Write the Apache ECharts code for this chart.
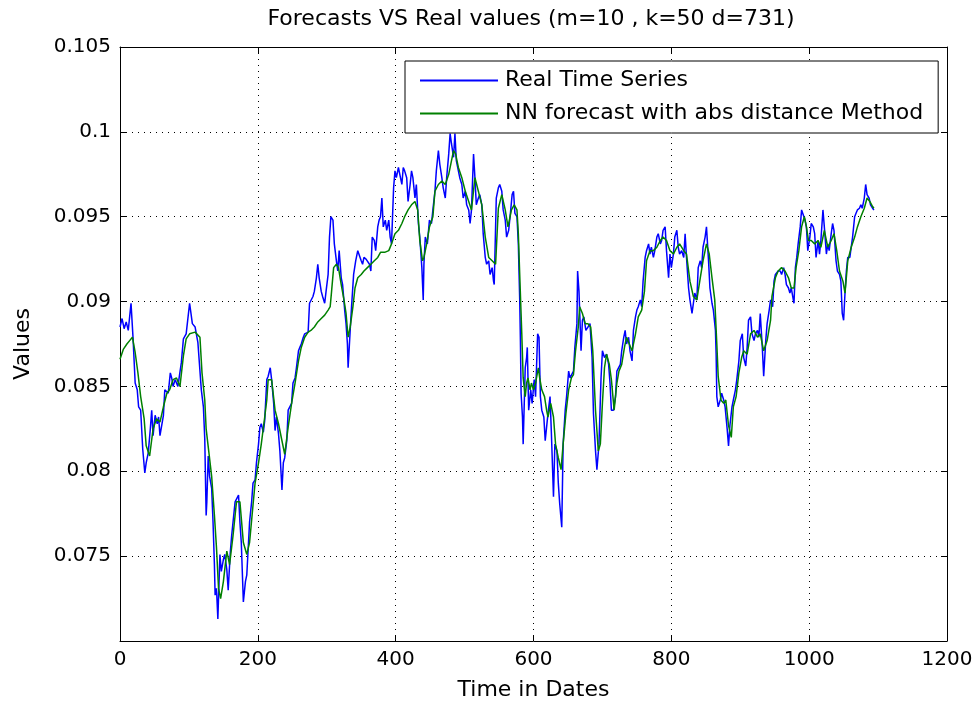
<!DOCTYPE html>
<html>
<head>
<meta charset="utf-8">
<script src="https://cdn.jsdelivr.net/npm/echarts@6/dist/echarts.min.js"></script>
<style>
  html, body { margin: 0; padding: 0; background: #fff; }
  #chart { width: 976px; height: 706px; }
</style>
</head>
<body>
<div id="chart"></div>
<script>
// Real series: day index and observed value
const realDays = [
  0, 3, 6, 9, 12, 16, 19, 22, 25, 27, 30, 33, 36, 38, 41, 44, 46, 48, 51, 54,
  56, 58, 63, 65, 70, 73, 75, 77, 80, 84, 89, 92, 96, 101, 105, 109, 113, 118, 121, 123,
  125, 126, 128, 130, 133, 135, 137, 138, 140, 142, 145, 147, 150, 152, 155, 157, 160, 162, 167, 172,
  174, 176, 179, 182, 184, 188, 191, 193, 196, 198, 201, 203, 205, 208, 210, 213, 215, 218, 220, 223,
  225, 227, 230, 232, 235, 237, 239, 242, 244, 249, 251, 254, 256, 259, 261, 263, 266, 268, 273, 275,
  280, 282, 285, 287, 289, 292, 294, 297, 299, 302, 304, 306, 309, 311, 314, 316, 318, 321, 323, 326,
  328, 330, 331, 334, 336, 339, 342, 345, 347, 350, 352, 354, 357, 359, 362, 364, 366, 369, 371, 374,
  376, 378, 380, 382, 385, 387, 390, 392, 394, 397, 399, 401, 404, 406, 409, 411, 413, 416, 418, 421,
  423, 425, 428, 430, 433, 435, 438, 440, 441, 443, 446, 449, 452, 454, 457, 459, 462, 464, 467, 469,
  472, 474, 477, 479, 481, 484, 486, 488, 491, 493, 496, 498, 501, 503, 506, 508, 510, 513, 515, 517,
  520, 522, 525, 527, 530, 532, 535, 537, 540, 542, 543, 546, 549, 551, 554, 556, 559, 561, 564, 566,
  569, 571, 573, 576, 578, 580, 581, 582, 584, 585, 588, 590, 591, 593, 596, 598, 601, 603, 606, 608,
  610, 612, 615, 617, 619, 621, 624, 626, 629, 631, 634, 636, 638, 641, 643, 646, 648, 651, 653, 655,
  658, 660, 663, 664, 666, 669, 671, 673, 676, 679, 682, 685, 687, 690, 692, 695, 698, 700, 703, 706,
  709, 711, 713, 716, 719, 721, 723, 726, 728, 731, 733, 735, 738, 740, 743, 745, 748, 750, 752, 755,
  757, 759, 762, 764, 767, 769, 771, 774, 776, 779, 781, 784, 786, 788, 791, 793, 796, 798, 800, 803,
  805, 808, 810, 812, 815, 818, 820, 822, 825, 827, 830, 832, 834, 837, 839, 842, 844, 846, 849, 851,
  854, 856, 859, 861, 864, 865, 866, 868, 871, 873, 876, 878, 881, 883, 885, 888, 890, 893, 895, 898,
  900, 903, 905, 908, 910, 912, 915, 917, 920, 922, 925, 927, 929, 932, 934, 937, 939, 942, 944, 947,
  949, 951, 953, 955, 958, 960, 963, 965, 967, 970, 972, 974, 977, 978, 980, 982, 984, 987, 989, 991,
  994, 996, 998, 1001, 1003, 1006, 1008, 1010, 1013, 1015, 1017, 1020, 1022, 1025, 1027, 1029, 1032, 1034, 1036, 1039,
  1041, 1044, 1046, 1048, 1050, 1052, 1054, 1056, 1059, 1061, 1063, 1066, 1068, 1070, 1073, 1075, 1077, 1080, 1082, 1084,
  1087, 1089, 1092, 1094
];
const realValues = [
  0.0885, 0.0890, 0.0884, 0.0888, 0.0883, 0.0899, 0.0878, 0.0852, 0.0848, 0.0838, 0.0836, 0.0813, 0.0799, 0.0805, 0.0811, 0.0825, 0.0836, 0.0821, 0.0833, 0.0828,
  0.0832, 0.0821, 0.0833, 0.0848, 0.0846, 0.0858, 0.0855, 0.0850, 0.0854, 0.0850, 0.0864, 0.0878, 0.0881, 0.0899, 0.0887, 0.0885, 0.0876, 0.0848, 0.0838, 0.0819,
  0.0774, 0.0782, 0.0809, 0.0797, 0.0790, 0.0770, 0.0745, 0.0727, 0.0731, 0.0713, 0.0751, 0.0741, 0.0748, 0.0751, 0.0742, 0.0730, 0.0752, 0.0762, 0.0782, 0.0786,
  0.0770, 0.0758, 0.0723, 0.0735, 0.0739, 0.0770, 0.0782, 0.0793, 0.0795, 0.0805, 0.0816, 0.0826, 0.0828, 0.0823, 0.0830, 0.0854, 0.0856, 0.0861, 0.0854, 0.0840,
  0.0824, 0.0832, 0.0822, 0.0812, 0.0789, 0.0805, 0.0808, 0.0818, 0.0836, 0.0840, 0.0852, 0.0855, 0.0861, 0.0871, 0.0873, 0.0875, 0.0879, 0.0881, 0.0882, 0.0899,
  0.0903, 0.0906, 0.0914, 0.0922, 0.0914, 0.0906, 0.0903, 0.0899, 0.0906, 0.0916, 0.0938, 0.0950, 0.0948, 0.0934, 0.0924, 0.0918, 0.0930, 0.0914, 0.0910, 0.0895,
  0.0887, 0.0875, 0.0861, 0.0883, 0.0897, 0.0916, 0.0924, 0.0930, 0.0931, 0.0924, 0.0922, 0.0926, 0.0925, 0.0924, 0.0922, 0.0918, 0.0938, 0.0936, 0.0930, 0.0944,
  0.0948, 0.0950, 0.0961, 0.0944, 0.0948, 0.0942, 0.0948, 0.0938, 0.0934, 0.0967, 0.0977, 0.0973, 0.0979, 0.0975, 0.0969, 0.0979, 0.0977, 0.0973, 0.0959, 0.0969,
  0.0977, 0.0973, 0.0961, 0.0969, 0.0946, 0.0938, 0.0920, 0.0901, 0.0922, 0.0938, 0.0934, 0.0948, 0.0946, 0.0954, 0.0965, 0.0977, 0.0989, 0.0981, 0.0973, 0.0967,
  0.0961, 0.0973, 0.0987, 0.0999, 0.0993, 0.0985, 0.0999, 0.0983, 0.0977, 0.0973, 0.0969, 0.0961, 0.0965, 0.0957, 0.0954, 0.0946, 0.0954, 0.0987, 0.0973, 0.0957,
  0.0961, 0.0963, 0.0957, 0.0940, 0.0926, 0.0922, 0.0924, 0.0916, 0.0920, 0.0912, 0.0910, 0.0961, 0.0967, 0.0969, 0.0965, 0.0954, 0.0948, 0.0938, 0.0942, 0.0950,
  0.0963, 0.0965, 0.0952, 0.0950, 0.0934, 0.0901, 0.0877, 0.0846, 0.0832, 0.0816, 0.0861, 0.0867, 0.0873, 0.0836, 0.0848, 0.0840, 0.0854, 0.0844, 0.0881, 0.0879,
  0.0844, 0.0836, 0.0832, 0.0818, 0.0826, 0.0834, 0.0844, 0.0822, 0.0785, 0.0816, 0.0812, 0.0793, 0.0781, 0.0767, 0.0816, 0.0836, 0.0844, 0.0859, 0.0855, 0.0855,
  0.0859, 0.0873, 0.0887, 0.0918, 0.0906, 0.0871, 0.0889, 0.0891, 0.0883, 0.0885, 0.0887, 0.0867, 0.0834, 0.0812, 0.0801, 0.0816, 0.0855, 0.0871, 0.0867, 0.0869,
  0.0863, 0.0852, 0.0836, 0.0836, 0.0844, 0.0859, 0.0859, 0.0863, 0.0871, 0.0879, 0.0883, 0.0875, 0.0879, 0.0871, 0.0865, 0.0883, 0.0891, 0.0895, 0.0897, 0.0901,
  0.0897, 0.0912, 0.0926, 0.0930, 0.0934, 0.0928, 0.0932, 0.0926, 0.0930, 0.0938, 0.0940, 0.0934, 0.0936, 0.0942, 0.0944, 0.0930, 0.0914, 0.0928, 0.0920, 0.0928,
  0.0938, 0.0942, 0.0932, 0.0928, 0.0930, 0.0926, 0.0940, 0.0926, 0.0908, 0.0901, 0.0893, 0.0899, 0.0905, 0.0901, 0.0920, 0.0924, 0.0920, 0.0932, 0.0938, 0.0944,
  0.0924, 0.0908, 0.0899, 0.0895, 0.0883, 0.0869, 0.0844, 0.0838, 0.0842, 0.0846, 0.0842, 0.0838, 0.0825, 0.0815, 0.0827, 0.0838, 0.0842, 0.0848, 0.0854, 0.0865,
  0.0877, 0.0881, 0.0867, 0.0862, 0.0873, 0.0889, 0.0891, 0.0881, 0.0877, 0.0881, 0.0883, 0.0879, 0.0893, 0.0873, 0.0856, 0.0877, 0.0887, 0.0895, 0.0901, 0.0897,
  0.0912, 0.0916, 0.0915, 0.0918, 0.0918, 0.0916, 0.0920, 0.0916, 0.0910, 0.0908, 0.0905, 0.0908, 0.0901, 0.0899, 0.0920, 0.0926, 0.0934, 0.0944, 0.0954, 0.0955,
  0.0948, 0.0944, 0.0930, 0.0938, 0.0946, 0.0944, 0.0940, 0.0926, 0.0936, 0.0928, 0.0936, 0.0954, 0.0944, 0.0928, 0.0934, 0.0930, 0.0940, 0.0946, 0.0942, 0.0924,
  0.0918, 0.0916, 0.0912, 0.0893, 0.0889, 0.0905, 0.0918, 0.0926, 0.0926, 0.0932, 0.0938, 0.0950, 0.0952, 0.0954, 0.0955, 0.0957, 0.0955, 0.0961, 0.0969, 0.0963,
  0.0961, 0.0957, 0.0955, 0.0954
];

// Nearest-neighbour forecast: day index and predicted value
const forecastDays = [
  0, 5, 10, 14, 18, 22, 26, 30, 35, 38, 43, 48, 53, 58, 63, 68, 72, 77, 82, 87,
  92, 96, 101, 109, 116, 119, 123, 125, 129, 133, 137, 140, 143, 146, 150, 155, 159, 164, 169, 174,
  179, 184, 188, 193, 196, 201, 205, 210, 213, 215, 220, 225, 230, 235, 239, 244, 249, 254, 259, 263,
  268, 273, 277, 282, 287, 292, 297, 302, 305, 307, 310, 314, 317, 321, 325, 328, 331, 334, 338, 341,
  345, 350, 354, 359, 364, 369, 374, 378, 384, 390, 394, 399, 404, 409, 413, 418, 423, 428, 432, 435,
  439, 441, 445, 449, 454, 457, 462, 467, 472, 477, 480, 484, 487, 491, 496, 501, 506, 510, 515, 520,
  525, 530, 535, 540, 545, 549, 554, 559, 563, 568, 572, 576, 578, 580, 583, 585, 588, 590, 592, 595,
  597, 600, 603, 607, 609, 612, 616, 619, 621, 625, 629, 632, 636, 640, 643, 647, 651, 655, 658, 661,
  665, 667, 671, 675, 679, 683, 686, 690, 694, 697, 700, 703, 706, 710, 713, 717, 721, 724, 728, 732,
  735, 739, 743, 748, 752, 757, 761, 764, 769, 774, 779, 784, 788, 793, 798, 803, 808, 812, 818, 822,
  827, 832, 837, 842, 846, 851, 855, 859, 863, 866, 868, 872, 876, 879, 883, 887, 890, 894, 898, 902,
  905, 910, 915, 920, 925, 929, 934, 939, 944, 946, 951, 955, 960, 965, 970, 974, 978, 981, 985, 989,
  993, 996, 999, 1003, 1008, 1013, 1017, 1022, 1027, 1032, 1036, 1040, 1044, 1049, 1052, 1056, 1061, 1066, 1070, 1075,
  1080, 1084, 1088, 1092, 1094
];
const forecastValues = [
  0.0866, 0.0872, 0.0875, 0.0877, 0.0879, 0.0870, 0.0858, 0.0844, 0.0831, 0.0815, 0.0809, 0.0825, 0.0831, 0.0829, 0.0838, 0.0846, 0.0848, 0.0854, 0.0855, 0.0850,
  0.0868, 0.0878, 0.0881, 0.0882, 0.0879, 0.0858, 0.0842, 0.0825, 0.0811, 0.0797, 0.0774, 0.0755, 0.0731, 0.0725, 0.0735, 0.0753, 0.0745, 0.0762, 0.0782, 0.0782,
  0.0758, 0.0751, 0.0758, 0.0780, 0.0793, 0.0805, 0.0816, 0.0832, 0.0842, 0.0854, 0.0854, 0.0836, 0.0828, 0.0818, 0.0810, 0.0826, 0.0840, 0.0852, 0.0865, 0.0873,
  0.0879, 0.0882, 0.0883, 0.0885, 0.0888, 0.0890, 0.0892, 0.0895, 0.0897, 0.0906, 0.0920, 0.0922, 0.0920, 0.0910, 0.0901, 0.0893, 0.0879, 0.0885, 0.0897, 0.0908,
  0.0914, 0.0916, 0.0918, 0.0920, 0.0922, 0.0924, 0.0926, 0.0929, 0.0929, 0.0930, 0.0934, 0.0940, 0.0942, 0.0946, 0.0950, 0.0954, 0.0957, 0.0959, 0.0954, 0.0936,
  0.0924, 0.0926, 0.0934, 0.0944, 0.0950, 0.0965, 0.0969, 0.0971, 0.0969, 0.0975, 0.0981, 0.0989, 0.0987, 0.0979, 0.0973, 0.0965, 0.0959, 0.0954, 0.0973, 0.0965,
  0.0957, 0.0938, 0.0926, 0.0924, 0.0922, 0.0955, 0.0963, 0.0954, 0.0944, 0.0954, 0.0957, 0.0954, 0.0940, 0.0916, 0.0881, 0.0855, 0.0844, 0.0852, 0.0855, 0.0848,
  0.0852, 0.0848, 0.0852, 0.0861, 0.0855, 0.0848, 0.0844, 0.0836, 0.0832, 0.0840, 0.0832, 0.0816, 0.0808, 0.0801, 0.0816, 0.0834, 0.0848, 0.0855, 0.0857, 0.0871,
  0.0885, 0.0897, 0.0893, 0.0887, 0.0887, 0.0885, 0.0871, 0.0836, 0.0812, 0.0816, 0.0840, 0.0861, 0.0869, 0.0863, 0.0854, 0.0836, 0.0852, 0.0859, 0.0863, 0.0873,
  0.0879, 0.0875, 0.0871, 0.0881, 0.0891, 0.0895, 0.0906, 0.0924, 0.0930, 0.0930, 0.0932, 0.0936, 0.0938, 0.0936, 0.0930, 0.0928, 0.0932, 0.0934, 0.0930, 0.0928,
  0.0912, 0.0903, 0.0901, 0.0914, 0.0924, 0.0934, 0.0928, 0.0914, 0.0901, 0.0875, 0.0856, 0.0842, 0.0840, 0.0842, 0.0827, 0.0820, 0.0838, 0.0844, 0.0858, 0.0867,
  0.0871, 0.0869, 0.0881, 0.0883, 0.0879, 0.0881, 0.0871, 0.0877, 0.0889, 0.0903, 0.0914, 0.0918, 0.0920, 0.0918, 0.0914, 0.0908, 0.0908, 0.0920, 0.0930, 0.0944,
  0.0950, 0.0944, 0.0936, 0.0936, 0.0934, 0.0936, 0.0932, 0.0942, 0.0932, 0.0936, 0.0940, 0.0930, 0.0918, 0.0912, 0.0905, 0.0924, 0.0932, 0.0938, 0.0944, 0.0950,
  0.0955, 0.0961, 0.0959, 0.0956, 0.0955
];

// Axis ticks
const xTicks = [0, 200, 400, 600, 800, 1000, 1200];
const yTicks = [0.075, 0.08, 0.085, 0.09, 0.095, 0.1, 0.105];

const FONT = '"DejaVu Sans", Verdana, sans-serif';

const pair = (xs, ys) => xs.map((x, i) => [x, ys[i]]);
const fmtY = v => parseFloat(v.toFixed(3)).toString();
const fmtX = v => String(Math.round(v));

const xMin = xTicks[0], xMax = xTicks[xTicks.length - 1], xStep = xTicks[1] - xTicks[0];
const yStep = 0.005, yMax = yTicks[yTicks.length - 1], yMin = 0.07;

const boxAxisX = (position, labels) => ({
  type: 'value', position, min: xMin, max: xMax, interval: xStep,
  axisLine: { show: true, onZero: false, lineStyle: { color: '#000', width: 1 } },
  axisTick: { show: true, inside: true, length: 6, lineStyle: { color: '#000' } },
  axisLabel: { show: labels, color: '#000', fontSize: 20, fontFamily: FONT, margin: 9, formatter: fmtX },
  splitLine: { show: labels, lineStyle: { color: '#000', type: [1, 5], width: 1 } }
});
const boxAxisY = (position, labels) => ({
  type: 'value', position, min: yMin, max: yMax, interval: yStep,
  axisLine: { show: true, onZero: false, lineStyle: { color: '#000', width: 1 } },
  axisTick: { show: true, inside: true, length: 6, lineStyle: { color: '#000' } },
  axisLabel: { show: labels, showMinLabel: false, color: '#000', fontSize: 20, fontFamily: FONT, margin: 9, formatter: fmtY },
  splitLine: { show: labels, lineStyle: { color: '#000', type: [1, 5], width: 1 } }
});

const chart = echarts.init(document.getElementById('chart'), null, { renderer: 'canvas' });

const xMain = boxAxisX('bottom', true);
xMain.name = 'Time in Dates';
xMain.nameLocation = 'middle';
xMain.nameGap = 38;
xMain.nameTextStyle = { color: '#000', fontSize: 22, fontFamily: FONT };

const yMain = boxAxisY('left', true);
yMain.name = 'Values';
yMain.nameLocation = 'middle';
yMain.nameGap = 86;
yMain.nameTextStyle = { color: '#000', fontSize: 22, fontFamily: FONT };

chart.setOption({
  backgroundColor: '#fff',
  animation: false,
  title: {
    text: 'Forecasts VS Real values (m=10 , k=50 d=731)',
    left: 531, top: 8, padding: 0, textAlign: 'center',
    textStyle: { color: '#000', fontSize: 22, fontWeight: 'normal', fontFamily: FONT }
  },
  grid: { left: 120, right: 29, top: 47, bottom: 64, containLabel: false },
  xAxis: [xMain, boxAxisX('top', false)],
  yAxis: [yMain, boxAxisY('right', false)],
  legend: {
    orient: 'vertical', left: 405, top: 61,
    padding: [7, 15, 7, 15], itemGap: 8,
    itemWidth: 78, itemHeight: 2, icon: 'rect',
    backgroundColor: '#fff', borderColor: '#000', borderWidth: 1,
    textStyle: { color: '#000', fontSize: 22, lineHeight: 25, fontFamily: FONT, padding: [0, 0, 0, 2] },
    data: ['Real Time Series', 'NN forecast with abs distance Method']
  },
  series: [
    {
      name: 'Real Time Series', type: 'line', symbol: 'none',
      lineStyle: { color: '#0000ff', width: 1.5 }, itemStyle: { color: '#0000ff' },
      data: pair(realDays, realValues), z: 2
    },
    {
      name: 'NN forecast with abs distance Method', type: 'line', symbol: 'none',
      lineStyle: { color: '#008000', width: 1.5 }, itemStyle: { color: '#008000' },
      data: pair(forecastDays, forecastValues), z: 3
    }
  ]
});
</script>
</body>
</html>
